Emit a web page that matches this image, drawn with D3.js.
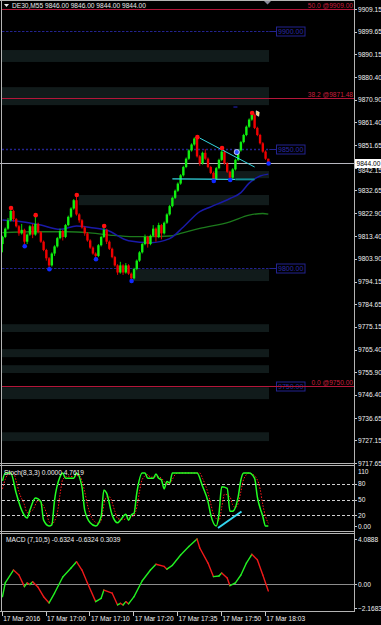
<!DOCTYPE html>
<html lang="en">
<head>
<meta charset="UTF-8">
<title>DE30 M5</title>
<style>
  body { margin: 0; background: #000; }
  svg { display: block; font-family: "Liberation Sans", Arial, sans-serif; }
  .axis path { display: none; }
  .axis line { stroke: #c8c8c8; shape-rendering: crispEdges; }
  .axis text { fill: #f0f0f0; font-size: 6.6px; }
  .frame { stroke: #b4b4b4; shape-rendering: crispEdges; }
</style>
</head>
<body>
<svg class="chart"></svg>
<script src="https://cdn.jsdelivr.net/npm/d3@7"></script>
<script>
// ---- data ----
const opens = [9810, 9813, 9816.5, 9820, 9824, 9820.5, 9817.5, 9814.5, 9816, 9811,
  9814, 9817.5, 9814, 9818.5, 9815, 9811, 9807.5, 9804, 9801, 9806,
  9809, 9812.5, 9815.5, 9813, 9818, 9821.5, 9825, 9828.5, 9822.5, 9820,
  9817, 9814.5, 9811.5, 9808.5, 9806, 9805, 9809.5, 9813, 9816, 9811,
  9808, 9804.5, 9801, 9798, 9801, 9798, 9801, 9797.5, 9795.5, 9799.5,
  9803, 9806.5, 9810, 9813, 9810, 9813.5, 9816.5, 9813, 9818, 9814.5,
  9819, 9822.5, 9826, 9829.5, 9832.5, 9835.5, 9839, 9842.5, 9846, 9849.5,
  9852, 9854.5, 9847, 9844, 9848.5, 9846, 9842.5, 9840, 9837.5, 9842,
  9845.5, 9849, 9844, 9840.5, 9838, 9841.5, 9845.5, 9849.5, 9853, 9856,
  9859.5, 9862.5, 9864.5, 9859, 9856, 9852.5, 9849, 9846];
const closes = [9813, 9816.5, 9820, 9824, 9820.5, 9817.5, 9814.5, 9816, 9811, 9814,
  9817.5, 9814, 9818.5, 9815, 9811, 9807.5, 9804, 9801, 9806, 9809,
  9812.5, 9815.5, 9813, 9818, 9821.5, 9825, 9828.5, 9822.5, 9820, 9817,
  9814.5, 9811.5, 9808.5, 9806, 9805, 9809.5, 9813, 9816, 9811, 9808,
  9804.5, 9801, 9798, 9801, 9798, 9801, 9797.5, 9795.5, 9799.5, 9803,
  9806.5, 9810, 9813, 9810, 9813.5, 9816.5, 9813, 9818, 9814.5, 9819,
  9822.5, 9826, 9829.5, 9832.5, 9835.5, 9839, 9842.5, 9846, 9849.5, 9852,
  9854.5, 9847, 9844, 9848.5, 9846, 9842.5, 9840, 9837.5, 9842, 9845.5,
  9849, 9844, 9840.5, 9838, 9841.5, 9845.5, 9849.5, 9853, 9856, 9859.5,
  9862.5, 9864.5, 9859, 9856, 9852.5, 9849, 9846, 9844];
const highs = [9813.5, 9817, 9821, 9825.2, 9824.5, 9821, 9818, 9818.5, 9816.5, 9814.5,
  9818, 9818.5, 9822.2, 9819, 9815.5, 9811.5, 9808, 9804.5, 9806.5, 9809.5,
  9813, 9816.5, 9816, 9818.5, 9822, 9825.5, 9829, 9830.7, 9823, 9820.5,
  9817.5, 9815, 9812, 9809, 9806.5, 9810, 9813.5, 9817.6, 9816.5, 9811.5,
  9808.5, 9805, 9801.5, 9802.5, 9801.5, 9802, 9801.5, 9798, 9800, 9803.5,
  9807, 9810.5, 9814, 9813.5, 9814, 9818, 9817, 9819, 9818.5, 9819.5,
  9823, 9826.5, 9830, 9833, 9836, 9839.5, 9843, 9846.5, 9850, 9852.5,
  9855, 9855.1, 9847.5, 9849, 9850, 9846.5, 9843, 9840.5, 9842.5, 9846,
  9850.5, 9849.5, 9844.5, 9841, 9842, 9846, 9850, 9853.5, 9856.5, 9860,
  9863, 9865.3, 9865, 9859.5, 9856.5, 9853, 9849.5, 9846];
const lows = [9806.5, 9812.5, 9816, 9819.5, 9819.5, 9817, 9813.5, 9814, 9809.1, 9810,
  9813.5, 9812.5, 9813.5, 9814.5, 9810.5, 9807, 9803, 9799.4, 9800.5, 9805,
  9808.5, 9812, 9811.5, 9812.5, 9817.5, 9821, 9824.5, 9822, 9819, 9816.5,
  9813.5, 9811, 9808, 9805.5, 9803.6, 9804.5, 9809, 9812.5, 9810, 9807.5,
  9804, 9800.5, 9797, 9797.5, 9797, 9797.5, 9797, 9794.4, 9795, 9799,
  9802.5, 9806, 9809.5, 9808.5, 9809.5, 9813, 9811, 9812.5, 9812, 9814,
  9818.5, 9822, 9825.5, 9829, 9832, 9835, 9838.5, 9842, 9845.5, 9849,
  9851.5, 9846.5, 9843, 9843.5, 9845.5, 9842, 9839.5, 9836.6, 9837, 9841.5,
  9845, 9843.5, 9840, 9837, 9837.5, 9841, 9845, 9849, 9852.5, 9855.5,
  9859, 9862, 9858.5, 9855.5, 9852, 9848.5, 9845.5, 9844];

// fractal marks: bar indices
const upFractals = [3, 12, 27, 37, 71, 80, 91];
const downFractals = [8, 17, 34, 47, 77, 83, 97];

// moving averages [bar, price]
const maBlue = [[0, 9820.1], [7, 9819.4], [14, 9818.0], [21, 9816.2], [27, 9817.6], [32, 9817.0],
  [38, 9815.9], [46, 9811.4], [54, 9810.6], [61, 9812.3], [66, 9817.2], [72, 9823.7],
  [76, 9825.7], [83, 9829.2], [87, 9831.7], [90, 9835.7], [94, 9838.7], [97, 9839.5]];
const maGreen = [[0, 9814.8], [11, 9815.2], [24, 9815.2], [31, 9814.8], [39, 9813.8], [48, 9813.1],
  [54, 9813.1], [61, 9813.4], [65, 9814.5], [72, 9816.6], [83, 9819.4], [90, 9822.2],
  [95, 9822.9], [97, 9822.6]];

// zones: top, bottom, first bar
const zoneTop = [9891.85, 9876.2, 9840.8, 9830.7, 9799.4, 9776.2, 9765.7, 9758.9, 9749.6, 9730.6];
const zoneBottom = [9886.8, 9868.6, 9837.8, 9826.4, 9794.4, 9772.9, 9762.3, 9755.6, 9744.6, 9726.9];
const zoneStart = [0, 0, 77, 28, 48, 0, 0, 0, 0, 0];

const roundLevels = [9900, 9850, 9800, 9750];
const roundDash = ["2.5,1.5", "2,2", "2.5,1.5", "2.5,1.5"];
const fibLevels = [9909, 9871.48, 9750];
const fibLabels = ["50.0 @9909.00", "38.2 @9871.48", "0.0 @9750.00"];
const lastPrice = 9844;

const priceTicks = [9909.15, 9899.65, 9890.15, 9880.40, 9870.90, 9861.40, 9851.65,
  9832.65, 9822.90, 9813.40, 9803.90, 9794.15, 9784.65, 9775.15, 9765.40, 9755.90,
  9746.40, 9736.65, 9727.15, 9717.65];
const hiddenTick = 9842.15;
const timeTickBars = [0, 16, 32, 48, 64, 80, 96];
const timeLabels = ["17 Mar 2016", "17 Mar 17:00", "17 Mar 17:10", "17 Mar 17:20",
  "17 Mar 17:35", "17 Mar 17:50", "17 Mar 18:03"];

const stochMain = [[0, 85], [1, 100], [3, 100], [5, 62], [7, 30], [9, 15], [10, 30], [12, 53], [14, 46],
  [15, 11], [17, 0], [18, 2], [19, 49], [21, 93], [22, 100], [23, 90], [26, 90], [27, 100], [29, 74],
  [30, 30], [32, 6], [34, 0], [36, 18], [37, 68], [38, 62], [40, 21], [42, 6], [43, 11], [45, 22],
  [46, 11], [47, 21], [48, 24], [49, 62], [51, 100], [52, 100], [53, 90], [55, 90], [56, 98], [57, 90],
  [58, 87], [59, 70], [60, 84], [61, 81], [62, 100], [71, 100], [73, 75], [75, 46], [76, 21], [78, 0],
  [79, 23], [80, 74], [82, 71], [83, 28], [84, 28], [86, 55], [87, 87], [88, 100], [90, 100], [92, 90],
  [93, 55], [95, 18], [96, 0], [97, 0]];
const stochSignal = [[0, 70], [1, 88], [2, 97], [4, 100], [5, 85], [6, 65], [8, 40], [9, 25], [11, 30],
  [13, 48], [14, 45], [16, 25], [17, 8], [18, 4], [20, 25], [21, 60], [22, 88], [24, 94], [26, 93],
  [27, 95], [28, 95], [30, 65], [31, 40], [33, 12], [35, 5], [36, 10], [37, 40], [38, 55], [39, 55],
  [41, 28], [42, 14], [44, 12], [46, 16], [47, 17], [48, 20], [49, 35], [50, 65], [51, 88], [53, 97],
  [54, 92], [56, 93], [57, 93], [58, 90], [60, 80], [61, 80], [62, 88], [63, 97], [64, 100], [72, 100],
  [73, 90], [75, 62], [76, 42], [77, 22], [78, 14], [79, 10], [80, 35], [81, 60], [83, 55], [84, 40],
  [85, 35], [86, 42], [87, 65], [88, 88], [90, 100], [91, 98], [92, 95], [94, 70], [95, 40], [96, 18],
  [97, 5]];
const stochLevels = [80, 50, 20];

const macd = [[0, -1.15], [1, 0.1], [4, 1.27], [6, 0.82], [8, -0.24], [9, 0.1], [10, -0.05], [11, 0.2],
  [13, -0.3], [15, -1.15], [17, -1.72], [19, -0.82], [22, 0.64], [25, 1.45], [27, 2.03], [29, 1.27],
  [31, 0.1], [34, -1.6], [36, -1.3], [37, -0.55], [40, -0.82], [42, -1.9], [43, -1.75], [44, -1.9],
  [45, -1.6], [46, -1.8], [48, -1.15], [51, 0.3], [54, 1.27], [56, 1.8], [59, 1.6], [60, 1.35],
  [62, 1.7], [65, 2.64], [68, 3.4], [71, 4.09], [72, 3.27], [75, 1.9], [77, 0.67], [79, 0.73],
  [80, 1.0], [82, 0.55], [83, -0.15], [85, 0.1], [87, 0.82], [89, 1.9], [91, 2.7], [93, 2.2],
  [95, 0.82], [97, -0.63]];

// ---- layout ----
const width = 381, height = 625, axisX = 354;

const x = d3.scaleLinear().domain([0, 97]).range([2.5, 268.3]);
const y = d3.scaleLinear().domain([9717.65, 9909.15]).range([463, 9]);
const yStoch = d3.scaleLinear().domain([0, 100]).range([526, 473]);
const yMacd = d3.scaleLinear().domain([-2.1683, 4.0888]).range([607.9, 539]);

const svg = d3.select(".chart").attr("width", width).attr("height", height);
svg.append("rect").attr("width", width).attr("height", height).attr("fill", "#000");

// zones
svg.selectAll(".zone")
  .data(zoneTop)
  .enter().append("rect")
  .attr("class", "zone")
  .attr("x", (d, i) => x(zoneStart[i]) - 0.5)
  .attr("y", d => y(d))
  .attr("width", (d, i) => x(97) + 0.7 - x(zoneStart[i]) + 0.5)
  .attr("height", (d, i) => y(zoneBottom[i]) - y(d))
  .attr("fill", "#111b1b");

// round number levels with boxes
const navy = "#23238f";
roundLevels.forEach((lv, i) => {
  const yy = Math.round(y(lv)) + 0.5;
  svg.append("line").attr("x1", 2).attr("x2", x(97) + 1).attr("y1", yy).attr("y2", yy)
    .attr("stroke", navy).attr("stroke-width", i === 1 ? 1.5 : 1)
    .attr("stroke-dasharray", roundDash[i]);
  svg.append("line").attr("x1", x(97) + 1).attr("x2", 276).attr("y1", yy).attr("y2", yy)
    .attr("stroke", navy);
  svg.append("rect").attr("x", 276.5).attr("y", yy - 4.5).attr("width", 28.5).attr("height", 9)
    .attr("fill", "#000").attr("stroke", navy);
  svg.append("text").attr("x", 290.7).attr("y", yy + 2.6).attr("text-anchor", "middle")
    .attr("fill", "#2a2aa6").style("font-size", "7px").text(lv.toFixed(2));
});

// fibo levels
fibLevels.forEach((lv, i) => {
  const yy = Math.round(y(lv)) + 0.5;
  svg.append("line").attr("x1", 2).attr("x2", axisX).attr("y1", yy).attr("y2", yy)
    .attr("stroke", "#b4163a").attr("stroke-width", 1);
  svg.append("text").attr("x", 353).attr("y", yy - 1.5).attr("text-anchor", "end")
    .attr("fill", "#c81e3c").style("font-size", "6.6px").text(fibLabels[i]);
});

// current price line
const yLast = Math.round(y(lastPrice)) + 0.5;
svg.append("line").attr("x1", 0).attr("x2", axisX).attr("y1", yLast).attr("y2", yLast)
  .attr("stroke", "#b8b8c0");

// moving averages
const maLine = d3.line().x(d => x(d[0])).y(d => y(d[1])).curve(d3.curveMonotoneX);
svg.append("path").datum(maGreen).attr("d", maLine).attr("fill", "none")
  .attr("stroke", "#1c7a1c").attr("stroke-width", 1.3);
svg.append("path").datum(maBlue).attr("d", maLine).attr("fill", "none")
  .attr("stroke", "#1a1aa8").attr("stroke-width", 1.5);

// candles
const bars = closes.map((c, i) => ({ i, o: opens[i], h: highs[i], l: lows[i], c }));
const candle = svg.selectAll(".candle").data(bars).enter().append("g").attr("class", "candle");
candle.append("line")
  .attr("x1", d => x(d.i)).attr("x2", d => x(d.i))
  .attr("y1", d => y(d.h)).attr("y2", d => y(d.l))
  .attr("stroke", d => d.c >= d.o ? "#00d800" : "#e00000").attr("stroke-width", 1);
candle.append("rect")
  .attr("x", d => x(d.i) - 1.2)
  .attr("y", d => y(Math.max(d.o, d.c)))
  .attr("width", 2.4)
  .attr("height", d => Math.max(1, Math.abs(y(d.o) - y(d.c))))
  .attr("fill", d => d.c >= d.o ? "#10f010" : "#f00000");

// trend lines (cyan)
svg.append("line").attr("x1", x(72)).attr("y1", y(9854.7)).attr("x2", x(92)).attr("y2", y(9842.5))
  .attr("stroke", "#33d6e0").attr("stroke-width", 1);
svg.append("line").attr("x1", x(62)).attr("y1", y(9837.5)).attr("x2", x(85)).attr("y2", y(9837.3))
  .attr("stroke", "#33d6e0").attr("stroke-width", 1.2);
svg.append("line").attr("x1", x(85)).attr("y1", y(9837.3)).attr("x2", x(92)).attr("y2", y(9837.3))
  .attr("stroke", "#138a93").attr("stroke-width", 2);

// fractals
svg.selectAll(".fup").data(upFractals).enter().append("circle")
  .attr("cx", d => x(d) + 0.3).attr("cy", d => y(highs[d])).attr("r", 2.3).attr("fill", "#ff1010");
svg.selectAll(".fdn").data(downFractals).enter().append("circle")
  .attr("cx", d => x(d) + 0.3).attr("cy", d => y(lows[d])).attr("r", 2.3).attr("fill", "#1028ff");

// small markers
svg.append("circle").attr("cx", x(85.5)).attr("cy", y(9848.8)).attr("r", 2.6)
  .attr("fill", "#3050ff").attr("stroke", "#e8e8ff").attr("stroke-width", 0.8);
svg.append("path")
  .attr("d", `M${x(92.6)},${y(9866.2)} l3,1.5 l-0.5,4 l-2.5,-1.5 z`)
  .attr("fill", "#f8d070").attr("stroke", "#ffffff").attr("stroke-width", 0.6);
svg.append("rect").attr("x", x(85) - 2).attr("y", y(9867.8) - 0.7).attr("width", 4).attr("height", 1.4)
  .attr("fill", "#1a1a8c");

// ---- right price axis ----
svg.append("g").attr("class", "axis")
  .attr("transform", `translate(${axisX},0)`)
  .call(d3.axisRight(y).tickValues(priceTicks).tickFormat(d3.format(".2f")).tickSize(3).tickPadding(1));

// tick under the last price box, its label peeks out below the box
svg.append("line").attr("x1", axisX).attr("x2", axisX + 3)
  .attr("y1", Math.round(y(hiddenTick)) + 0.5).attr("y2", Math.round(y(hiddenTick)) + 0.5)
  .attr("stroke", "#c8c8c8");
svg.append("text").attr("x", 358).attr("y", yLast + 9.6).attr("fill", "#f0f0f0")
  .style("font-size", "6.6px").text(hiddenTick.toFixed(2));

svg.append("rect").attr("x", 355).attr("y", yLast - 4.5).attr("width", 26).attr("height", 9).attr("fill", "#fff");
svg.append("text").attr("x", 356.5).attr("y", yLast + 2.4).attr("fill", "#000")
  .style("font-size", "6.6px").text(lastPrice.toFixed(2));

// ---- stochastic panel ----
stochLevels.forEach(lv => {
  svg.append("line").attr("x1", 2).attr("x2", axisX).attr("y1", Math.round(yStoch(lv)) + 0.5)
    .attr("y2", Math.round(yStoch(lv)) + 0.5)
    .attr("stroke", "#d0d0d0").attr("stroke-dasharray", "3,2");
});
const stLine = d3.line().x(d => x(d[0])).y(d => yStoch(d[1])).curve(d3.curveMonotoneX);
svg.append("path").datum(stochSignal).attr("d", stLine).attr("fill", "none")
  .attr("stroke", "#ff1a1a").attr("stroke-width", 1).attr("stroke-dasharray", "1.5,1.5");
svg.append("path").datum(stochMain).attr("d", stLine).attr("fill", "none")
  .attr("stroke", "#22ff22").attr("stroke-width", 1.5);
svg.append("line").attr("x1", 218).attr("y1", 528).attr("x2", 241.5).attr("y2", 511.5)
  .attr("stroke", "#33d6f0").attr("stroke-width", 2);

svg.append("g").attr("class", "axis")
  .attr("transform", `translate(${axisX},0)`)
  .call(d3.axisRight(yStoch).tickValues([0, 20, 50, 80]).tickSize(3).tickPadding(1)
    .tickFormat(d => d === 0 ? "0.00" : d));
svg.append("text").attr("x", 358).attr("y", 473.5).attr("fill", "#f0f0f0")
  .style("font-size", "6.6px").text("110");
svg.append("text").attr("x", 4).attr("y", 474.5).attr("fill", "#f0f0f0")
  .style("font-size", "6.6px").text("Stoch(8,3,3) 0.0000 4.7619");

// ---- MACD panel ----
svg.append("line").attr("x1", 2).attr("x2", axisX).attr("y1", Math.round(yMacd(0)) + 0.5)
  .attr("y2", Math.round(yMacd(0)) + 0.5).attr("stroke", "#8c8c8c");
const segs = d3.pairs(macd);
svg.selectAll(".macd").data(segs).enter().append("line")
  .attr("x1", d => x(d[0][0])).attr("y1", d => yMacd(d[0][1]))
  .attr("x2", d => x(d[1][0])).attr("y2", d => yMacd(d[1][1]))
  .attr("stroke", d => d[1][1] >= d[0][1] ? "#22ee22" : "#ee1a1a")
  .attr("stroke-width", 1.4).attr("stroke-linecap", "round");

svg.append("g").attr("class", "axis")
  .attr("transform", `translate(${axisX},0)`)
  .call(d3.axisRight(yMacd).tickValues([4.0888, 0, -2.1683]).tickSize(3).tickPadding(1)
    .tickFormat(d => d === 0 ? "0.00" : d3.format(".4f")(d)));
svg.append("text").attr("x", 6).attr("y", 542).attr("fill", "#f0f0f0")
  .style("font-size", "6.6px").text("MACD (7,10,5) -0.6324 -0.6324 0.3039");

// ---- time axis ----
const tAxis = svg.append("g").attr("class", "axis")
  .attr("transform", "translate(-0.8,611.5)")
  .call(d3.axisBottom(x).tickValues(timeTickBars).tickSize(4).tickPadding(1)
    .tickFormat((d, k) => timeLabels[k]));
tAxis.selectAll("text").attr("text-anchor", "start").attr("dx", 1);

// ---- frames ----
const frames = [[0, 0.5, axisX, 0.5], [0, 463.5, axisX, 463.5], [0, 465.5, axisX, 465.5],
  [0, 531.5, axisX, 531.5], [0, 533.5, axisX, 533.5], [0, 611.5, axisX, 611.5],
  [axisX + 0.5, 0, axisX + 0.5, 612], [1, 0, 1, 612]];
svg.selectAll(".frame").data(frames).enter().append("line").attr("class", "frame")
  .attr("x1", d => d[0]).attr("y1", d => d[1]).attr("x2", d => d[2]).attr("y2", d => d[3]);

// header
svg.append("path").attr("d", "M4,4 L9,4 L6.5,7 Z").attr("fill", "#e8e8e8");
svg.append("text").attr("x", 12).attr("y", 8.2).attr("fill", "#e8e8e8")
  .style("font-size", "6.6px").text("DE30,M55 9846.00 9846.00 9844.00 9844.00");
svg.append("path").attr("d", "M264,1 L271,1 L267.5,4.5 Z").attr("fill", "#8a8a9a");
</script>
</body>
</html>
